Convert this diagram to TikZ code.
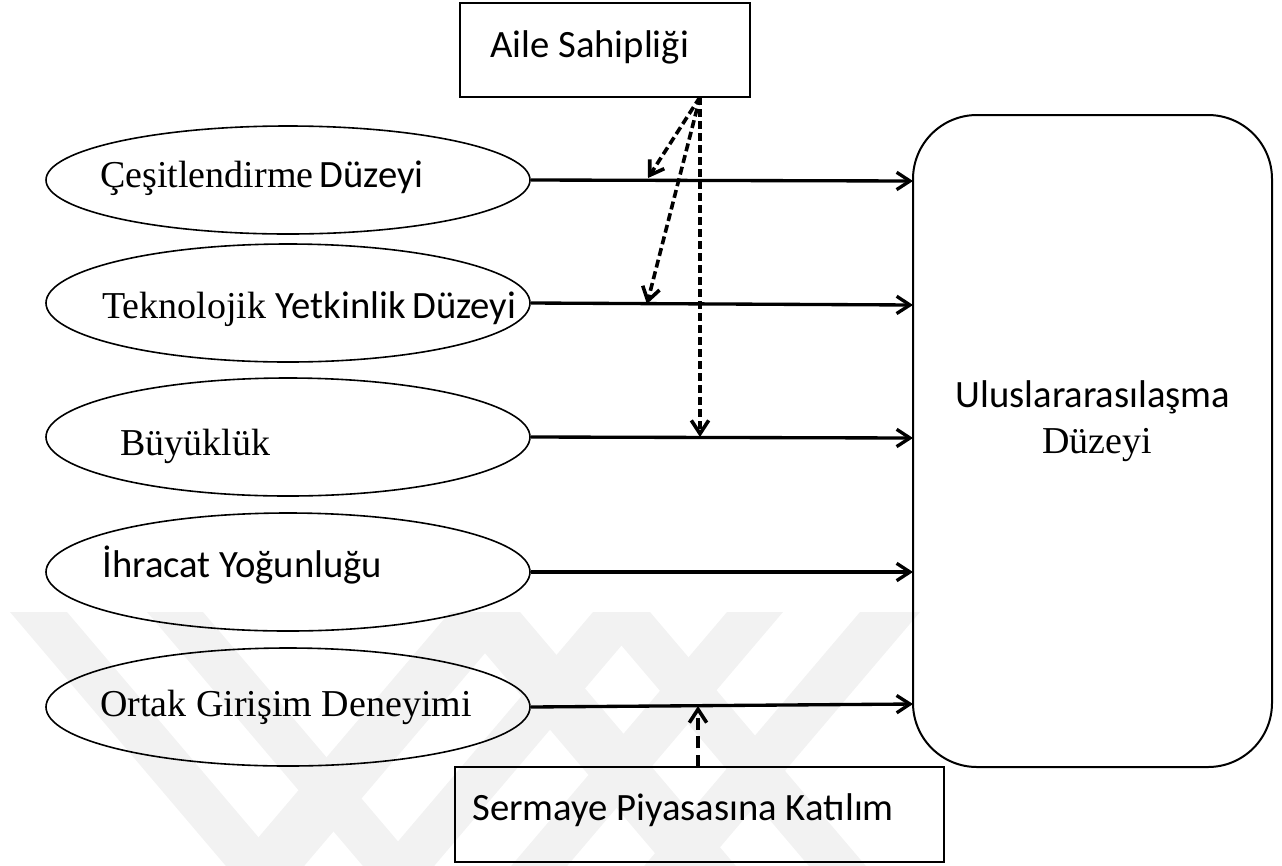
\documentclass[tikz,border=0pt]{standalone}
\usepackage{fontspec}
\setmainfont{Liberation Serif}
\newfontfamily\calfont{Carlito}
\usetikzlibrary{arrows.meta,shapes.geometric}
\newcommand\cf[1]{{\calfont\fontsize{29}{35}\selectfont #1}}
\begin{document}
\begin{tikzpicture}[x=0.75pt,y=-0.75pt,
  ell/.style={draw, ellipse, line width=1.2pt, minimum width=363pt, minimum height=88.5pt, inner sep=0pt},
  box/.style={draw, rectangle, line width=1.8pt, inner sep=0pt},
  bigbox/.style={draw, rectangle, rounded corners=48pt, line width=1.5pt, inner sep=0pt},
  serif/.style={font=\fontsize{28.5}{34}\selectfont, inner sep=0pt},
  sans/.style={font=\calfont\fontsize{29}{35}\selectfont, inner sep=0pt},
  flow/.style={line width=2.5pt, -{Straight Barb[length=10pt,width=13pt]}},
  moder/.style={flow, line width=2.7pt, dash pattern=on 6pt off 3pt},
  moderb/.style={flow, line width=2.7pt, dash pattern=on 9pt off 5pt},
  wm/.style={fill=black!5}
]
\useasboundingbox (0,0) rectangle (1282,865);
% watermark
\begin{scope}
  \clip (0,612) rectangle (1282,865);
  \foreach \a/\b in {10/67,147/203,450/520,593/650}
    \fill[wm] (\a,612) -- (\b,612) -- (\b+255,912) -- (\a+255,912) -- cycle;
  \foreach \a/\b in {450/520,593/650,727/783,860/920}
    \fill[wm] (\a,612) -- (\b,612) -- (\b-255,912) -- (\a-255,912) -- cycle;
\end{scope}

% top moderator box
\node[box, minimum width=217.5pt, minimum height=70.5pt] (A) at (605,50) {};
\node[sans, anchor=base west] (At) at (490,57) {Aile Sahipliği};

% bottom moderator box
\node[box, line width=1.6pt, minimum width=366.75pt, minimum height=71.25pt] (S) at (699.5,814.5) {};
\node[sans, anchor=base west] (St) at (472,820) {Sermaye Piyasasına Katılım};

% ellipses
\node[ell, minimum height=81pt] (e1) at (288,180) {};
\node[ell] (e2) at (288,303) {};
\node[ell] (e3) at (288,437) {};
\node[ell] (e4) at (288,572) {};
\node[ell] (e5) at (288,707) {};
\node[serif, anchor=base west] (t1) at (100,187) {Çeşitlendirme\,\cf{Düzeyi}};
\node[serif, anchor=base west] (t2) at (102,318) {Teknolojik \cf{Yetkinlik\,Düzeyi}};
\node[serif, anchor=base west] (t3) at (120,455) {Büyüklük};
\node[sans, anchor=base west] (t4) at (102,577) {İhracat Yoğunluğu};
\node[serif, anchor=base west] (t5) at (100,716) {Ortak Girişim Deneyimi};

% dependent
\node[bigbox, minimum width=269.25pt, minimum height=489pt] (U) at (1092.5,441) {};
\node[sans, anchor=base] (Ut) at (1093,407) {Uluslararasılaşma};
\node[serif, anchor=base] (Ud) at (1097,453) {Düzeyi};

% coordinates
\coordinate (r1) at (913,181);
\coordinate (r2) at (913,305);
\coordinate (r3) at (913,438);
\coordinate (r4) at (913,572);
\coordinate (r5) at (913,704);
\coordinate (a0) at (700,97);
\coordinate (m1) at (648,178);
\coordinate (m2) at (647,304);
\coordinate (m3) at (700,437);
\coordinate (s0) at (698,767);
\coordinate (m5) at (698,706);

% main paths
\draw[flow] (e1.east) -- (r1);
\draw[flow] (e2.east) -- (r2);
\draw[flow] (e3.east) -- (r3);
\draw[flow] (e4.east) -- (r4);
\draw[flow] (e5.east) -- (r5);

% moderator paths
\draw[moder] (a0) -- (m1);
\draw[moder] (a0) -- (m2);
\draw[moder] (a0) -- (m3);
\draw[moderb] (s0) -- (m5);
\end{tikzpicture}
\end{document}
